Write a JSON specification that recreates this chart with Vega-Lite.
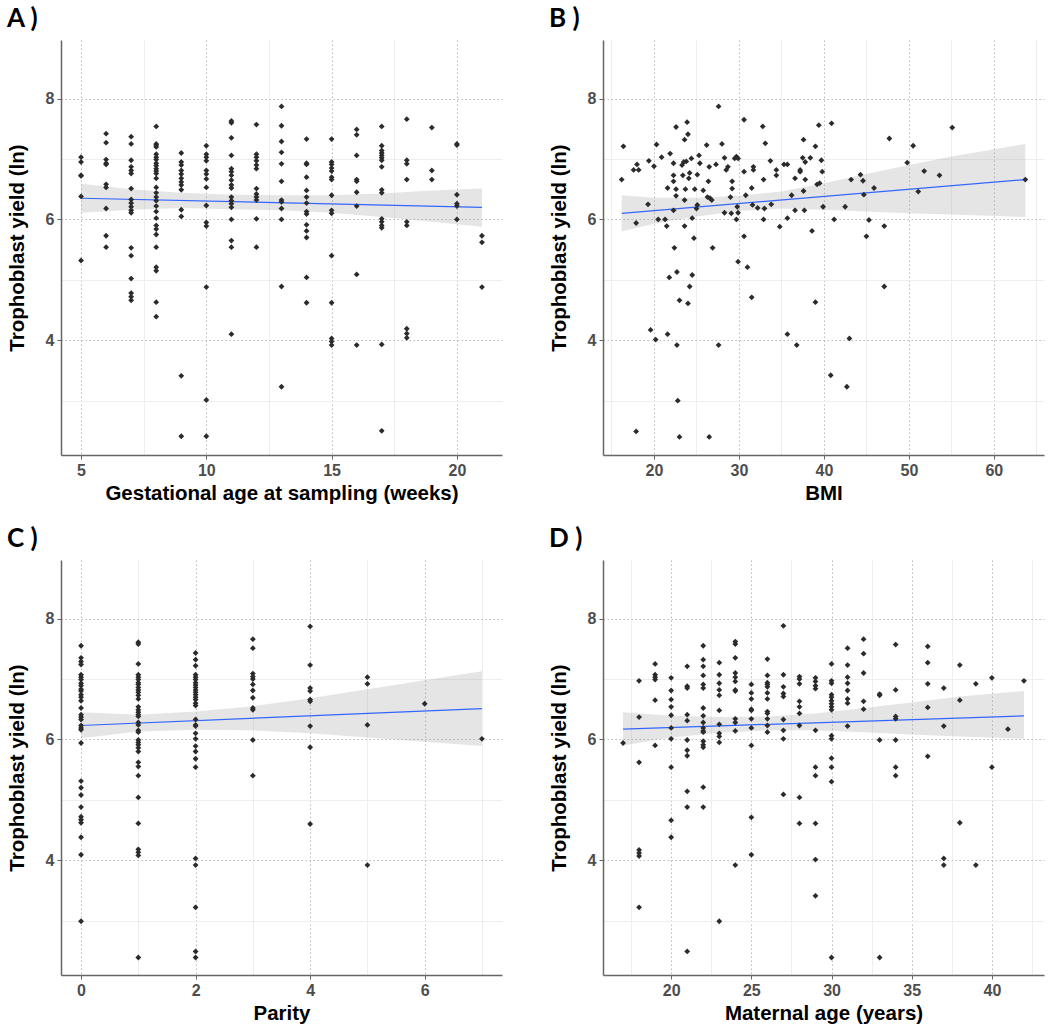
{
  "$schema": "https://vega.github.io/schema/vega-lite/v6.json",
  "background": "white",
  "padding": {"left": 7, "top": 6, "right": 5, "bottom": 5},
  "columns": 2,
  "spacing": {"row": 22, "column": 47},
  "config": {
    "view": {"stroke": null},
    "title": {"anchor": "start", "font": "Lato", "fontSize": 26, "fontWeight": "bold", "color": "#000000", "offset": 8, "frame": "bounds"},
    "axis": {"labelFont": "Liberation Sans", "labelFontSize": 16, "labelFontWeight": "bold", "labelColor": "#4D4D4D", "titleFont": "Liberation Sans", "titleFontSize": 20.5, "titleFontWeight": "bold", "titleColor": "#000000", "domainColor": "#666666", "domainWidth": 1.5, "tickColor": "#666666", "tickSize": 4, "labelPadding": 3, "gridWidth": 1, "labelOverlap": false},
    "axisX": {"titlePadding": 5},
    "axisY": {"titlePadding": 18}
  },
  "datasets": {
    "ptsA": [
      {"x":5,"y":7.03},{"x":5,"y":6.95},{"x":5,"y":6.73},{"x":5,"y":6.72},{"x":5,"y":6.38},{"x":5,"y":5.32},
      {"x":6,"y":7.42},{"x":6,"y":7.27},{"x":6,"y":6.99},{"x":6,"y":6.93},{"x":6,"y":6.91},{"x":6,"y":6.58},{"x":6,"y":6.53},{"x":6,"y":6.18},{"x":6,"y":5.73},{"x":6,"y":5.54},
      {"x":7,"y":7.37},{"x":7,"y":7.25},{"x":7,"y":6.98},{"x":7,"y":6.87},{"x":7,"y":6.81},{"x":7,"y":6.76},{"x":7,"y":6.51},{"x":7,"y":6.33},{"x":7,"y":6.27},{"x":7,"y":6.21},{"x":7,"y":6.15},{"x":7,"y":6.11},{"x":7,"y":5.53},{"x":7,"y":5.40},{"x":7,"y":5.02},{"x":7,"y":4.78},{"x":7,"y":4.72},{"x":7,"y":4.66},
      {"x":8,"y":7.54},{"x":8,"y":7.25},{"x":8,"y":7.23},{"x":8,"y":7.20},{"x":8,"y":7.08},{"x":8,"y":7.03},{"x":8,"y":6.99},{"x":8,"y":6.93},{"x":8,"y":6.89},{"x":8,"y":6.84},{"x":8,"y":6.80},{"x":8,"y":6.76},{"x":8,"y":6.68},{"x":8,"y":6.53},{"x":8,"y":6.44},{"x":8,"y":6.37},{"x":8,"y":6.31},{"x":8,"y":6.22},{"x":8,"y":6.13},{"x":8,"y":6.02},{"x":8,"y":5.90},{"x":8,"y":5.84},{"x":8,"y":5.75},{"x":8,"y":5.54},{"x":8,"y":5.21},{"x":8,"y":5.15},{"x":8,"y":4.63},{"x":8,"y":4.39},
      {"x":9,"y":7.10},{"x":9,"y":6.95},{"x":9,"y":6.90},{"x":9,"y":6.81},{"x":9,"y":6.75},{"x":9,"y":6.68},{"x":9,"y":6.62},{"x":9,"y":6.57},{"x":9,"y":6.49},{"x":9,"y":6.16},{"x":9,"y":6.05},{"x":9,"y":3.41},{"x":9,"y":2.41},
      {"x":10,"y":7.22},{"x":10,"y":7.08},{"x":10,"y":7.03},{"x":10,"y":6.97},{"x":10,"y":6.81},{"x":10,"y":6.75},{"x":10,"y":6.67},{"x":10,"y":6.53},{"x":10,"y":6.23},{"x":10,"y":5.95},{"x":10,"y":5.89},{"x":10,"y":4.88},{"x":10,"y":3.01},{"x":10,"y":2.41},
      {"x":11,"y":7.63},{"x":11,"y":7.60},{"x":11,"y":7.35},{"x":11,"y":7.06},{"x":11,"y":6.84},{"x":11,"y":6.79},{"x":11,"y":6.73},{"x":11,"y":6.65},{"x":11,"y":6.57},{"x":11,"y":6.52},{"x":11,"y":6.37},{"x":11,"y":6.31},{"x":11,"y":6.26},{"x":11,"y":6.20},{"x":11,"y":6.00},{"x":11,"y":5.65},{"x":11,"y":5.54},{"x":11,"y":4.10},
      {"x":12,"y":7.57},{"x":12,"y":7.08},{"x":12,"y":7.03},{"x":12,"y":6.97},{"x":12,"y":6.90},{"x":12,"y":6.84},{"x":12,"y":6.51},{"x":12,"y":6.42},{"x":12,"y":6.37},{"x":12,"y":6.32},{"x":12,"y":6.01},{"x":12,"y":5.54},
      {"x":13,"y":7.87},{"x":13,"y":7.55},{"x":13,"y":7.29},{"x":13,"y":7.11},{"x":13,"y":6.92},{"x":13,"y":6.63},{"x":13,"y":6.32},{"x":13,"y":6.29},{"x":13,"y":6.18},{"x":13,"y":6.00},{"x":13,"y":4.89},{"x":13,"y":3.23},
      {"x":14,"y":7.33},{"x":14,"y":6.93},{"x":14,"y":6.91},{"x":14,"y":6.70},{"x":14,"y":6.48},{"x":14,"y":6.37},{"x":14,"y":6.27},{"x":14,"y":6.13},{"x":14,"y":6.09},{"x":14,"y":5.91},{"x":14,"y":5.81},{"x":14,"y":5.70},{"x":14,"y":5.04},{"x":14,"y":4.62},
      {"x":15,"y":7.33},{"x":15,"y":6.95},{"x":15,"y":6.91},{"x":15,"y":6.85},{"x":15,"y":6.80},{"x":15,"y":6.70},{"x":15,"y":6.66},{"x":15,"y":6.40},{"x":15,"y":6.15},{"x":15,"y":6.10},{"x":15,"y":5.40},{"x":15,"y":4.62},{"x":15,"y":4.03},{"x":15,"y":3.98},{"x":15,"y":3.92},
      {"x":16,"y":7.49},{"x":16,"y":7.40},{"x":16,"y":7.06},{"x":16,"y":6.66},{"x":16,"y":6.63},{"x":16,"y":6.45},{"x":16,"y":6.22},{"x":16,"y":5.09},{"x":16,"y":3.92},
      {"x":17,"y":7.54},{"x":17,"y":7.22},{"x":17,"y":7.14},{"x":17,"y":7.10},{"x":17,"y":7.06},{"x":17,"y":7.02},{"x":17,"y":6.98},{"x":17,"y":6.87},{"x":17,"y":6.49},{"x":17,"y":6.44},{"x":17,"y":6.01},{"x":17,"y":5.96},{"x":17,"y":5.90},{"x":17,"y":5.86},{"x":17,"y":3.93},{"x":17,"y":2.50},
      {"x":18,"y":7.66},{"x":18,"y":6.98},{"x":18,"y":6.92},{"x":18,"y":6.66},{"x":18,"y":5.96},{"x":18,"y":5.90},{"x":18,"y":4.19},{"x":18,"y":4.11},{"x":18,"y":4.04},
      {"x":19,"y":7.52},{"x":19,"y":6.81},{"x":19,"y":6.66},
      {"x":20,"y":7.25},{"x":20,"y":7.23},{"x":20,"y":6.41},{"x":20,"y":6.26},{"x":20,"y":6.22},{"x":20,"y":6.00},
      {"x":21,"y":5.73},{"x":21,"y":5.62},{"x":21,"y":4.88}
    ],
    "lineA": [{"x":5,"y":6.35},{"x":21,"y":6.20}],
    "bandA": [{"x":5,"y":6.11,"y2":6.59},{"x":7,"y":6.16,"y2":6.50},{"x":9,"y":6.19,"y2":6.44},{"x":11,"y":6.17,"y2":6.41},{"x":13,"y":6.15,"y2":6.40},{"x":15,"y":6.11,"y2":6.40},{"x":17,"y":6.04,"y2":6.43},{"x":19,"y":5.96,"y2":6.48},{"x":21,"y":5.88,"y2":6.51}],
    "ptsB": [
      {"x":16.4,"y":7.21},{"x":16.2,"y":6.66},{"x":17.9,"y":5.94},{"x":17.6,"y":6.82},{"x":18.2,"y":6.82},{"x":18.0,"y":6.91},{"x":17.9,"y":2.49},{"x":19.4,"y":6.97},{"x":19.3,"y":6.25},{"x":20.0,"y":6.88},{"x":20.3,"y":7.24},{"x":19.6,"y":4.17},{"x":20.2,"y":4.01},{"x":20.5,"y":6.00},{"x":20.9,"y":7.03},{"x":21.3,"y":6.00},{"x":21.5,"y":5.89},{"x":21.6,"y":6.52},{"x":21.9,"y":7.09},{"x":21.6,"y":4.10},{"x":21.8,"y":5.04},{"x":22.3,"y":6.93},{"x":22.3,"y":6.73},{"x":22.3,"y":6.63},{"x":22.3,"y":6.15},{"x":22.4,"y":5.53},{"x":22.6,"y":7.53},{"x":22.6,"y":6.50},{"x":22.6,"y":6.39},{"x":22.7,"y":5.13},{"x":22.7,"y":3.92},{"x":22.8,"y":3.00},{"x":23.0,"y":4.66},{"x":23.0,"y":2.40},{"x":23.6,"y":7.32},{"x":23.3,"y":6.90},{"x":23.5,"y":6.95},{"x":23.4,"y":6.73},{"x":23.6,"y":6.32},{"x":23.6,"y":5.89},{"x":23.7,"y":6.50},{"x":23.8,"y":6.96},{"x":23.9,"y":7.61},{"x":24.0,"y":7.41},{"x":24.1,"y":6.68},{"x":24.2,"y":6.77},{"x":24.4,"y":7.01},{"x":24.0,"y":4.61},{"x":24.2,"y":4.89},{"x":24.5,"y":5.08},{"x":24.7,"y":5.69},{"x":24.5,"y":6.02},{"x":24.8,"y":6.50},{"x":25.1,"y":6.74},{"x":25.1,"y":6.24},{"x":25.0,"y":6.18},{"x":25.3,"y":7.06},{"x":25.4,"y":6.93},{"x":25.8,"y":6.48},{"x":26.2,"y":7.23},{"x":26.4,"y":6.63},{"x":26.5,"y":6.87},{"x":26.3,"y":6.37},{"x":26.6,"y":6.35},{"x":26.8,"y":6.32},{"x":26.9,"y":5.53},{"x":26.5,"y":2.40},{"x":27.3,"y":6.91},{"x":27.6,"y":7.87},{"x":27.6,"y":3.92},{"x":28.0,"y":7.25},{"x":28.3,"y":6.11},{"x":28.3,"y":7.02},{"x":28.5,"y":6.82},{"x":28.7,"y":6.87},{"x":29.1,"y":6.10},{"x":29.2,"y":6.63},{"x":29.2,"y":6.51},{"x":29.0,"y":6.37},{"x":29.5,"y":7.01},{"x":29.7,"y":7.04},{"x":29.9,"y":7.01},{"x":29.7,"y":6.00},{"x":29.9,"y":6.11},{"x":29.8,"y":6.21},{"x":29.9,"y":5.30},{"x":30.6,"y":7.65},{"x":30.6,"y":6.79},{"x":30.6,"y":5.72},{"x":30.8,"y":6.40},{"x":31.0,"y":5.21},{"x":31.5,"y":6.52},{"x":31.5,"y":4.71},{"x":31.7,"y":6.87},{"x":31.7,"y":6.82},{"x":31.6,"y":6.24},{"x":32.2,"y":6.19},{"x":32.8,"y":7.54},{"x":33.1,"y":7.26},{"x":32.9,"y":6.66},{"x":33.0,"y":6.18},{"x":32.9,"y":6.00},{"x":33.7,"y":6.97},{"x":33.8,"y":6.25},{"x":34.4,"y":6.82},{"x":34.4,"y":6.73},{"x":34.8,"y":5.88},{"x":35.3,"y":6.91},{"x":35.7,"y":6.91},{"x":35.7,"y":6.02},{"x":36.2,"y":6.40},{"x":36.6,"y":6.68},{"x":36.6,"y":6.15},{"x":37.2,"y":6.82},{"x":37.2,"y":6.79},{"x":37.6,"y":7.32},{"x":37.6,"y":6.47},{"x":37.8,"y":6.95},{"x":37.8,"y":6.66},{"x":37.5,"y":7.02},{"x":37.7,"y":6.15},{"x":38.6,"y":5.81},{"x":39.0,"y":7.21},{"x":39.4,"y":7.56},{"x":39.2,"y":6.58},{"x":39.5,"y":6.60},{"x":39.7,"y":6.98},{"x":39.8,"y":6.79},{"x":39.9,"y":6.21},{"x":39.0,"y":4.63},{"x":35.7,"y":4.10},{"x":36.8,"y":3.92},{"x":38.4,"y":7.02},{"x":40.9,"y":7.59},{"x":41.2,"y":6.00},{"x":40.8,"y":3.42},{"x":42.7,"y":3.23},{"x":43.0,"y":4.03},{"x":42.5,"y":6.21},{"x":43.2,"y":6.66},{"x":44.3,"y":6.74},{"x":44.6,"y":6.64},{"x":44.7,"y":6.41},{"x":45.3,"y":5.99},{"x":45.0,"y":5.72},{"x":45.9,"y":6.52},{"x":47.1,"y":5.89},{"x":47.1,"y":4.89},{"x":47.7,"y":7.34},{"x":49.8,"y":6.94},{"x":50.5,"y":7.22},{"x":51.1,"y":6.46},{"x":51.8,"y":6.80},{"x":53.6,"y":6.73},{"x":55.1,"y":7.52},{"x":63.7,"y":6.66}
    ],
    "lineB": [{"x":16.2,"y":6.10},{"x":63.7,"y":6.66}],
    "bandB": [{"x":16.2,"y":5.80,"y2":6.40},{"x":20,"y":5.93,"y2":6.36},{"x":25,"y":6.05,"y2":6.36},{"x":30,"y":6.14,"y2":6.39},{"x":35,"y":6.18,"y2":6.46},{"x":40,"y":6.16,"y2":6.60},{"x":45,"y":6.13,"y2":6.75},{"x":50,"y":6.10,"y2":6.90},{"x":55,"y":6.08,"y2":7.04},{"x":63.7,"y":6.04,"y2":7.25}],
    "ptsC": [
      {"x":0,"y":7.55},{"x":0,"y":7.35},{"x":0,"y":7.29},{"x":0,"y":7.24},{"x":0,"y":7.07},{"x":0,"y":7.03},{"x":0,"y":6.99},{"x":0,"y":6.93},{"x":0,"y":6.89},{"x":0,"y":6.83},{"x":0,"y":6.80},{"x":0,"y":6.74},{"x":0,"y":6.70},{"x":0,"y":6.64},{"x":0,"y":6.52},{"x":0,"y":6.41},{"x":0,"y":6.37},{"x":0,"y":6.33},{"x":0,"y":6.23},{"x":0,"y":6.19},{"x":0,"y":6.16},{"x":0,"y":5.94},{"x":0,"y":5.31},{"x":0,"y":5.20},{"x":0,"y":5.08},{"x":0,"y":4.88},{"x":0,"y":4.72},{"x":0,"y":4.67},{"x":0,"y":4.62},{"x":0,"y":4.38},{"x":0,"y":4.09},{"x":0,"y":2.99},
      {"x":1,"y":7.61},{"x":1,"y":7.58},{"x":1,"y":7.25},{"x":1,"y":7.07},{"x":1,"y":7.03},{"x":1,"y":6.99},{"x":1,"y":6.94},{"x":1,"y":6.91},{"x":1,"y":6.86},{"x":1,"y":6.82},{"x":1,"y":6.78},{"x":1,"y":6.73},{"x":1,"y":6.67},{"x":1,"y":6.54},{"x":1,"y":6.49},{"x":1,"y":6.45},{"x":1,"y":6.41},{"x":1,"y":6.38},{"x":1,"y":6.28},{"x":1,"y":6.24},{"x":1,"y":6.15},{"x":1,"y":6.12},{"x":1,"y":5.99},{"x":1,"y":5.95},{"x":1,"y":5.91},{"x":1,"y":5.86},{"x":1,"y":5.80},{"x":1,"y":5.62},{"x":1,"y":5.55},{"x":1,"y":5.40},{"x":1,"y":5.04},{"x":1,"y":4.61},{"x":1,"y":4.18},{"x":1,"y":4.13},{"x":1,"y":4.08},{"x":1,"y":2.39},
      {"x":2,"y":7.43},{"x":2,"y":7.32},{"x":2,"y":7.22},{"x":2,"y":7.07},{"x":2,"y":7.03},{"x":2,"y":6.99},{"x":2,"y":6.94},{"x":2,"y":6.90},{"x":2,"y":6.86},{"x":2,"y":6.82},{"x":2,"y":6.78},{"x":2,"y":6.74},{"x":2,"y":6.70},{"x":2,"y":6.66},{"x":2,"y":6.60},{"x":2,"y":6.56},{"x":2,"y":6.33},{"x":2,"y":6.24},{"x":2,"y":6.22},{"x":2,"y":6.10},{"x":2,"y":6.01},{"x":2,"y":5.89},{"x":2,"y":5.80},{"x":2,"y":5.68},{"x":2,"y":5.54},{"x":2,"y":4.03},{"x":2,"y":3.92},{"x":2,"y":3.22},{"x":2,"y":2.49},{"x":2,"y":2.39},
      {"x":3,"y":7.66},{"x":3,"y":7.51},{"x":3,"y":7.09},{"x":3,"y":7.04},{"x":3,"y":7.00},{"x":3,"y":6.91},{"x":3,"y":6.81},{"x":3,"y":6.69},{"x":3,"y":6.52},{"x":3,"y":6.49},{"x":3,"y":5.99},{"x":3,"y":5.40},
      {"x":4,"y":7.87},{"x":4,"y":7.23},{"x":4,"y":6.85},{"x":4,"y":6.80},{"x":4,"y":6.66},{"x":4,"y":6.63},{"x":4,"y":6.22},{"x":4,"y":5.87},{"x":4,"y":4.60},
      {"x":5,"y":7.03},{"x":5,"y":6.92},{"x":5,"y":6.24},{"x":5,"y":3.92},
      {"x":6,"y":6.59},
      {"x":7,"y":6.01}
    ],
    "lineC": [{"x":0,"y":6.23},{"x":7,"y":6.51}],
    "bandC": [{"x":0,"y":6.02,"y2":6.45},{"x":1,"y":6.13,"y2":6.41},{"x":2,"y":6.16,"y2":6.46},{"x":3,"y":6.15,"y2":6.55},{"x":4,"y":6.10,"y2":6.68},{"x":5,"y":6.03,"y2":6.83},{"x":6,"y":5.96,"y2":6.98},{"x":7,"y":5.89,"y2":7.13}],
    "ptsD": [
      {"x":17,"y":5.94},
      {"x":18,"y":6.97},{"x":18,"y":6.37},{"x":18,"y":5.62},{"x":18,"y":4.17},{"x":18,"y":4.12},{"x":18,"y":4.07},{"x":18,"y":3.22},
      {"x":19,"y":7.25},{"x":19,"y":7.07},{"x":19,"y":7.03},{"x":19,"y":6.99},{"x":19,"y":6.65},{"x":19,"y":5.90},
      {"x":20,"y":7.02},{"x":20,"y":6.81},{"x":20,"y":6.66},{"x":20,"y":6.54},{"x":20,"y":6.40},{"x":20,"y":6.19},{"x":20,"y":6.01},{"x":20,"y":5.54},{"x":20,"y":4.66},{"x":20,"y":4.38},
      {"x":21,"y":7.21},{"x":21,"y":6.88},{"x":21,"y":6.85},{"x":21,"y":6.41},{"x":21,"y":6.31},{"x":21,"y":5.99},{"x":21,"y":5.82},{"x":21,"y":5.73},{"x":21,"y":5.14},{"x":21,"y":4.88},{"x":21,"y":2.49},
      {"x":22,"y":7.55},{"x":22,"y":7.32},{"x":22,"y":7.21},{"x":22,"y":7.06},{"x":22,"y":6.91},{"x":22,"y":6.85},{"x":22,"y":6.52},{"x":22,"y":6.39},{"x":22,"y":6.28},{"x":22,"y":6.19},{"x":22,"y":6.14},{"x":22,"y":6.12},{"x":22,"y":5.97},{"x":22,"y":5.91},{"x":22,"y":5.87},{"x":22,"y":5.21},{"x":22,"y":4.88},
      {"x":23,"y":7.27},{"x":23,"y":7.07},{"x":23,"y":6.93},{"x":23,"y":6.82},{"x":23,"y":6.73},{"x":23,"y":6.48},{"x":23,"y":6.25},{"x":23,"y":6.10},{"x":23,"y":6.05},{"x":23,"y":5.95},{"x":23,"y":2.99},
      {"x":24,"y":7.62},{"x":24,"y":7.58},{"x":24,"y":7.35},{"x":24,"y":7.10},{"x":24,"y":7.03},{"x":24,"y":6.96},{"x":24,"y":6.82},{"x":24,"y":6.80},{"x":24,"y":6.34},{"x":24,"y":6.28},{"x":24,"y":6.14},{"x":24,"y":3.92},
      {"x":25,"y":6.91},{"x":25,"y":6.77},{"x":25,"y":6.67},{"x":25,"y":6.50},{"x":25,"y":6.48},{"x":25,"y":6.34},{"x":25,"y":6.19},{"x":25,"y":5.90},{"x":25,"y":4.71},{"x":25,"y":4.09},
      {"x":26,"y":7.33},{"x":26,"y":7.06},{"x":26,"y":6.94},{"x":26,"y":6.91},{"x":26,"y":6.87},{"x":26,"y":6.77},{"x":26,"y":6.67},{"x":26,"y":6.46},{"x":26,"y":6.43},{"x":26,"y":6.34},{"x":26,"y":6.23},{"x":26,"y":6.12},
      {"x":27,"y":7.88},{"x":27,"y":7.07},{"x":27,"y":6.87},{"x":27,"y":6.76},{"x":27,"y":6.71},{"x":27,"y":6.33},{"x":27,"y":6.15},{"x":27,"y":6.01},{"x":27,"y":5.09},
      {"x":28,"y":7.04},{"x":28,"y":7.00},{"x":28,"y":6.92},{"x":28,"y":6.63},{"x":28,"y":6.54},{"x":28,"y":6.43},{"x":28,"y":6.23},{"x":28,"y":5.04},{"x":28,"y":4.61},
      {"x":29,"y":7.02},{"x":29,"y":6.96},{"x":29,"y":6.89},{"x":29,"y":6.84},{"x":29,"y":6.15},{"x":29,"y":5.54},{"x":29,"y":5.40},{"x":29,"y":4.61},{"x":29,"y":4.01},{"x":29,"y":3.41},
      {"x":30,"y":7.25},{"x":30,"y":6.97},{"x":30,"y":6.93},{"x":30,"y":6.74},{"x":30,"y":6.70},{"x":30,"y":6.64},{"x":30,"y":6.59},{"x":30,"y":6.54},{"x":30,"y":6.49},{"x":30,"y":6.06},{"x":30,"y":6.01},{"x":30,"y":5.69},{"x":30,"y":5.54},{"x":30,"y":5.30},{"x":30,"y":2.39},
      {"x":31,"y":7.51},{"x":31,"y":7.23},{"x":31,"y":7.03},{"x":31,"y":6.93},{"x":31,"y":6.81},{"x":31,"y":6.67},{"x":31,"y":6.60},{"x":31,"y":6.22},
      {"x":32,"y":7.66},{"x":32,"y":7.42},{"x":32,"y":7.10},{"x":32,"y":6.63},{"x":32,"y":6.50},
      {"x":33,"y":6.75},{"x":33,"y":6.73},{"x":33,"y":5.99},{"x":33,"y":2.39},
      {"x":34,"y":7.57},{"x":34,"y":6.82},{"x":34,"y":6.38},{"x":34,"y":6.34},{"x":34,"y":5.99},{"x":34,"y":5.54},{"x":34,"y":5.40},
      {"x":36,"y":7.54},{"x":36,"y":7.27},{"x":36,"y":6.92},{"x":36,"y":6.53},{"x":36,"y":5.72},
      {"x":37,"y":6.85},{"x":37,"y":6.22},{"x":37,"y":4.03},{"x":37,"y":3.92},
      {"x":38,"y":7.23},{"x":38,"y":6.65},{"x":38,"y":4.62},
      {"x":39,"y":6.92},{"x":39,"y":3.92},
      {"x":40,"y":7.02},{"x":40,"y":5.54},
      {"x":41,"y":6.17},
      {"x":42,"y":6.97}
    ],
    "lineD": [{"x":17,"y":6.17},{"x":42,"y":6.39}],
    "bandD": [{"x":17,"y":5.90,"y2":6.45},{"x":20,"y":6.03,"y2":6.39},{"x":23,"y":6.11,"y2":6.37},{"x":26,"y":6.15,"y2":6.38},{"x":29,"y":6.15,"y2":6.43},{"x":32,"y":6.12,"y2":6.52},{"x":35,"y":6.08,"y2":6.61},{"x":38,"y":6.05,"y2":6.71},{"x":42,"y":6.01,"y2":6.80}]
  },
  "concat": [
    {
      "title": "A )",
      "width": 441, "height": 415,
      "encoding": {
        "x": {"field": "x", "type": "quantitative", "title": "Gestational age at sampling (weeks)", "scale": {"domain": [4.2, 21.8], "nice": false, "zero": false},
          "axis": {"values": [5, 7.5, 10, 12.5, 15, 17.5, 20], "labelExpr": "datum.value % 5 === 0 ? datum.label : ''",
            "gridDash": {"condition": {"test": "datum.value % 5 === 0", "value": [1.5, 2.5]}, "value": []},
            "gridColor": {"condition": {"test": "datum.value % 5 === 0", "value": "#BBBBBB"}, "value": "#EEEEEE"},
            "tickOpacity": {"condition": {"test": "datum.value % 5 === 0", "value": 1}, "value": 0}}},
        "y": {"field": "y", "type": "quantitative", "title": "Trophoblast yield (ln)", "scale": {"domain": [2.1, 8.97], "nice": false, "zero": false},
          "axis": {"values": [3, 4, 5, 6, 7, 8], "labelExpr": "datum.value % 2 === 0 ? datum.label : ''",
            "gridDash": {"condition": {"test": "datum.value % 2 === 0", "value": [1.5, 2.5]}, "value": []},
            "gridColor": {"condition": {"test": "datum.value % 2 === 0", "value": "#BBBBBB"}, "value": "#EEEEEE"},
            "tickOpacity": {"condition": {"test": "datum.value % 2 === 0", "value": 1}, "value": 0}}}
      },
      "layer": [
        {"data": {"name": "bandA"}, "mark": {"type": "area", "color": "#999999", "opacity": 0.25}, "encoding": {"y2": {"field": "y2"}}},
        {"data": {"name": "lineA"}, "mark": {"type": "line", "color": "#3366FF", "strokeWidth": 1.2}, "encoding": {}},
        {"data": {"name": "ptsA"}, "mark": {"type": "point", "shape": "diamond", "filled": true, "size": 34, "color": "#2B2B2B", "opacity": 1}}
      ]
    },
    {
      "title": "B )",
      "width": 441, "height": 415,
      "encoding": {
        "x": {"field": "x", "type": "quantitative", "title": "BMI", "scale": {"domain": [14.0, 65.9], "nice": false, "zero": false},
          "axis": {"values": [15, 20, 25, 30, 35, 40, 45, 50, 55, 60, 65], "labelExpr": "datum.value % 10 === 0 ? datum.label : ''",
            "gridDash": {"condition": {"test": "datum.value % 10 === 0", "value": [1.5, 2.5]}, "value": []},
            "gridColor": {"condition": {"test": "datum.value % 10 === 0", "value": "#BBBBBB"}, "value": "#EEEEEE"},
            "tickOpacity": {"condition": {"test": "datum.value % 10 === 0", "value": 1}, "value": 0}}},
        "y": {"field": "y", "type": "quantitative", "title": "Trophoblast yield (ln)", "scale": {"domain": [2.1, 8.97], "nice": false, "zero": false},
          "axis": {"values": [3, 4, 5, 6, 7, 8], "labelExpr": "datum.value % 2 === 0 ? datum.label : ''",
            "gridDash": {"condition": {"test": "datum.value % 2 === 0", "value": [1.5, 2.5]}, "value": []},
            "gridColor": {"condition": {"test": "datum.value % 2 === 0", "value": "#BBBBBB"}, "value": "#EEEEEE"},
            "tickOpacity": {"condition": {"test": "datum.value % 2 === 0", "value": 1}, "value": 0}}}
      },
      "layer": [
        {"data": {"name": "bandB"}, "mark": {"type": "area", "color": "#999999", "opacity": 0.25}, "encoding": {"y2": {"field": "y2"}}},
        {"data": {"name": "lineB"}, "mark": {"type": "line", "color": "#3366FF", "strokeWidth": 1.2}, "encoding": {}},
        {"data": {"name": "ptsB"}, "mark": {"type": "point", "shape": "diamond", "filled": true, "size": 34, "color": "#2B2B2B", "opacity": 1}}
      ]
    },
    {
      "title": "C )",
      "width": 441, "height": 415,
      "encoding": {
        "x": {"field": "x", "type": "quantitative", "title": "Parity", "scale": {"domain": [-0.35, 7.35], "nice": false, "zero": false},
          "axis": {"values": [0, 1, 2, 3, 4, 5, 6, 7], "labelExpr": "datum.value % 2 === 0 ? datum.label : ''",
            "gridDash": {"condition": {"test": "datum.value % 2 === 0", "value": [1.5, 2.5]}, "value": []},
            "gridColor": {"condition": {"test": "datum.value % 2 === 0", "value": "#BBBBBB"}, "value": "#EEEEEE"},
            "tickOpacity": {"condition": {"test": "datum.value % 2 === 0", "value": 1}, "value": 0}}},
        "y": {"field": "y", "type": "quantitative", "title": "Trophoblast yield (ln)", "scale": {"domain": [2.1, 8.97], "nice": false, "zero": false},
          "axis": {"values": [3, 4, 5, 6, 7, 8], "labelExpr": "datum.value % 2 === 0 ? datum.label : ''",
            "gridDash": {"condition": {"test": "datum.value % 2 === 0", "value": [1.5, 2.5]}, "value": []},
            "gridColor": {"condition": {"test": "datum.value % 2 === 0", "value": "#BBBBBB"}, "value": "#EEEEEE"},
            "tickOpacity": {"condition": {"test": "datum.value % 2 === 0", "value": 1}, "value": 0}}}
      },
      "layer": [
        {"data": {"name": "bandC"}, "mark": {"type": "area", "color": "#999999", "opacity": 0.25}, "encoding": {"y2": {"field": "y2"}}},
        {"data": {"name": "lineC"}, "mark": {"type": "line", "color": "#3366FF", "strokeWidth": 1.2}, "encoding": {}},
        {"data": {"name": "ptsC"}, "mark": {"type": "point", "shape": "diamond", "filled": true, "size": 34, "color": "#2B2B2B", "opacity": 1}}
      ]
    },
    {
      "title": "D )",
      "width": 441, "height": 415,
      "encoding": {
        "x": {"field": "x", "type": "quantitative", "title": "Maternal age (years)", "scale": {"domain": [15.75, 43.25], "nice": false, "zero": false},
          "axis": {"values": [17.5, 20, 22.5, 25, 27.5, 30, 32.5, 35, 37.5, 40, 42.5], "labelExpr": "datum.value % 5 === 0 ? datum.label : ''",
            "gridDash": {"condition": {"test": "datum.value % 5 === 0", "value": [1.5, 2.5]}, "value": []},
            "gridColor": {"condition": {"test": "datum.value % 5 === 0", "value": "#BBBBBB"}, "value": "#EEEEEE"},
            "tickOpacity": {"condition": {"test": "datum.value % 5 === 0", "value": 1}, "value": 0}}},
        "y": {"field": "y", "type": "quantitative", "title": "Trophoblast yield (ln)", "scale": {"domain": [2.1, 8.97], "nice": false, "zero": false},
          "axis": {"values": [3, 4, 5, 6, 7, 8], "labelExpr": "datum.value % 2 === 0 ? datum.label : ''",
            "gridDash": {"condition": {"test": "datum.value % 2 === 0", "value": [1.5, 2.5]}, "value": []},
            "gridColor": {"condition": {"test": "datum.value % 2 === 0", "value": "#BBBBBB"}, "value": "#EEEEEE"},
            "tickOpacity": {"condition": {"test": "datum.value % 2 === 0", "value": 1}, "value": 0}}}
      },
      "layer": [
        {"data": {"name": "bandD"}, "mark": {"type": "area", "color": "#999999", "opacity": 0.25}, "encoding": {"y2": {"field": "y2"}}},
        {"data": {"name": "lineD"}, "mark": {"type": "line", "color": "#3366FF", "strokeWidth": 1.2}, "encoding": {}},
        {"data": {"name": "ptsD"}, "mark": {"type": "point", "shape": "diamond", "filled": true, "size": 34, "color": "#2B2B2B", "opacity": 1}}
      ]
    }
  ]
}
